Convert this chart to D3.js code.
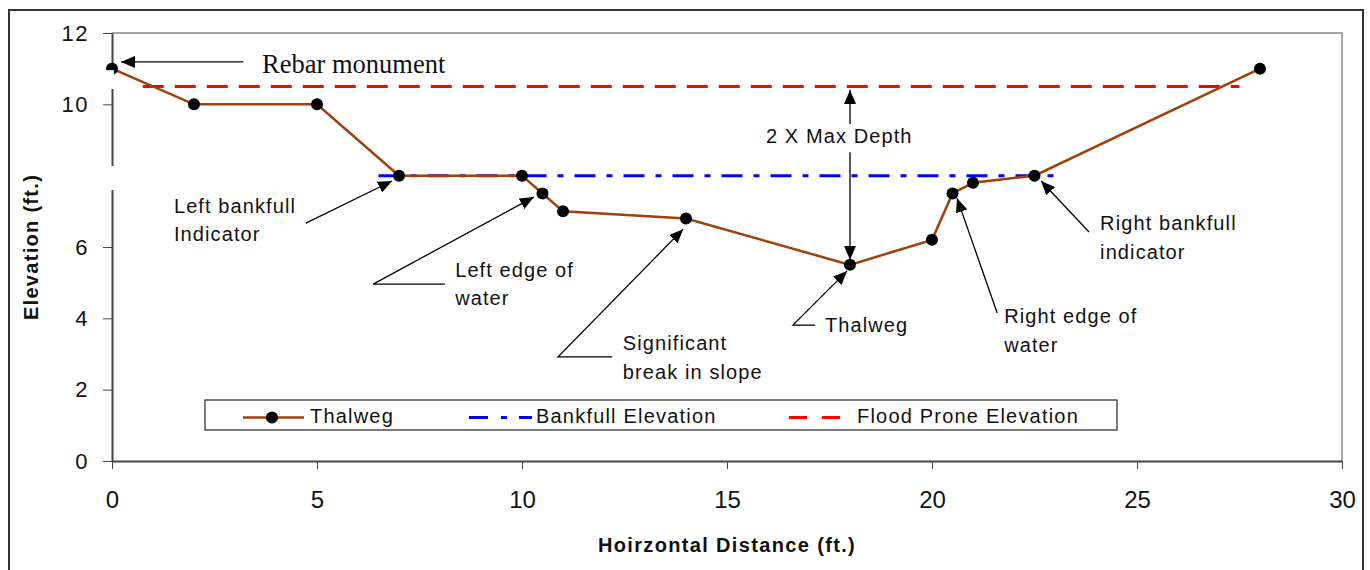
<!DOCTYPE html>
<html><head><meta charset="utf-8">
<script src="https://cdn.jsdelivr.net/npm/d3@7"></script>
<style>html,body{margin:0;padding:0;background:#fff;}svg{display:block;}</style>
</head><body>
<svg id="c" width="1370" height="570"></svg>
<script>
// ---- data ----
const distance = [0, 2, 5, 7, 10, 10.5, 11, 14, 18, 20, 20.5, 21, 22.5, 28];
const elevation = [11, 10, 10, 8, 8, 7.5, 7, 6.8, 5.5, 6.2, 7.5, 7.8, 8, 11];
const bankfullX = [6.5, 23];
const bankfullY = [8, 8];
const floodX = [0.75, 27.5];
const floodY = [10.5, 10.5];
const xTicks = [0, 5, 10, 15, 20, 25, 30];
const yTicks = [0, 2, 4, 6, 8, 10, 12];
const seriesNames = ["Thalweg", "Bankfull Elevation", "Flood Prone Elevation"];
// annotation texts (positions in data units)
const noteTexts = [
  {lines: ["Left bankfull", "Indicator"], x: 1.51, y: [6.95, 6.17]},
  {lines: ["Left edge of", "water"], x: 8.37, y: [5.16, 4.37]},
  {lines: ["Significant", "break in slope"], x: 12.46, y: [3.11, 2.30]},
  {lines: ["Thalweg"], x: 17.39, y: [3.62]},
  {lines: ["Right edge of", "water"], x: 21.76, y: [3.87, 3.06]},
  {lines: ["Right bankfull", "indicator"], x: 24.10, y: [6.48, 5.66]},
  {lines: ["2 X Max Depth"], x: 15.95, y: [8.92]}
];
// leader lines: points in data units, last point is arrow tip
const leaders = [
  [[3.20, 11.19], [0.22, 11.19]],
  [[4.73, 6.67], [6.83, 7.85]],
  [[8.12, 4.96], [6.37, 4.96], [10.29, 7.40]],
  [[12.20, 2.92], [10.88, 2.92], [13.93, 6.50]],
  [[17.15, 3.81], [16.61, 3.81], [17.93, 5.33]],
  [[21.59, 4.15], [20.61, 7.37]],
  [[23.83, 6.42], [22.66, 7.85]],
  [[18.0, 9.45], [18.0, 10.40]],
  [[18.0, 8.66], [18.0, 5.64]]
];

const svg = d3.select("#c");
const FONT = "Arial, 'Liberation Sans', sans-serif";
const x = d3.scaleLinear().domain([0, 30]).range([112, 1342]);
const y = d3.scaleLinear().domain([0, 12]).range([461, 33]);

// outer border
svg.append("rect").attr("x", 9).attr("y", 10).attr("width", 1354).attr("height", 580)
  .attr("fill", "#fff").attr("stroke", "#333").attr("stroke-width", 2);

// plot border (top/right gray)
svg.append("path").attr("d", `M${x(0)},${y(12)}H${x(30)}V${y(0)}`)
  .attr("fill", "none").attr("stroke", "#8a8a8a").attr("stroke-width", 1.5);

// axes
const yAxis = d3.axisLeft(y).tickValues(yTicks).tickSize(9).tickSizeOuter(0).tickPadding(14);
const gy = svg.append("g").attr("transform", `translate(${x(0)},0)`).call(yAxis);
gy.select(".domain").attr("stroke", "#444").attr("stroke-width", 2);
gy.selectAll(".tick line").attr("stroke", "#444").attr("stroke-width", 1);
gy.selectAll(".tick text").attr("font-family", FONT).attr("letter-spacing", 1.5)
  .attr("font-size", 22).attr("fill", "#111");

const xAxis = d3.axisBottom(x).tickValues(xTicks).tickSize(8).tickSizeOuter(0).tickPadding(20);
const gx = svg.append("g").attr("transform", `translate(0,${y(0)})`).call(xAxis);
gx.select(".domain").attr("stroke", "#444").attr("stroke-width", 2);
gx.selectAll(".tick line").attr("stroke", "#444").attr("stroke-width", 1);
gx.selectAll(".tick text").attr("font-family", FONT).attr("dy", null).attr("y", 47)
  .attr("font-size", 24).attr("fill", "#111");

// axis titles
svg.append("text").attr("x", 727).attr("y", 552).attr("text-anchor", "middle")
  .attr("font-family", FONT).attr("font-weight", "bold")
  .attr("font-size", 20).attr("letter-spacing", 1.35).attr("fill", "#111")
  .text("Hoirzontal Distance (ft.)");
svg.append("text").attr("transform", "translate(38,247) rotate(-90)").attr("text-anchor", "middle")
  .attr("font-family", FONT).attr("font-weight", "bold")
  .attr("font-size", 20).attr("letter-spacing", 1.3).attr("fill", "#111")
  .text("Elevation (ft.)");

// white gaps (text boxes overlapping axis)
svg.append("rect").attr("x", 66).attr("y", 166).attr("width", 52).attr("height", 24).attr("fill", "#fff");
svg.append("rect").attr("x", 100).attr("y", 72).attr("width", 17).attr("height", 17).attr("fill", "#fff");

// reference lines
const line = d3.line().x(d => x(d[0])).y(d => y(d[1]));
svg.append("path").datum(floodX.map((v, i) => [v, floodY[i]])).attr("d", line)
  .attr("fill", "none").attr("stroke", "#ff0000").attr("stroke-width", 3)
  .attr("stroke-dasharray", "21,11");
svg.append("path").datum(bankfullX.map((v, i) => [v, bankfullY[i]])).attr("d", line)
  .attr("fill", "none").attr("stroke", "#0000ff").attr("stroke-width", 3)
  .attr("stroke-dasharray", "21,11,6,11");

// thalweg
const pts = distance.map((v, i) => [v, elevation[i]]);
svg.append("path").datum(pts).attr("d", line)
  .attr("fill", "none").attr("stroke", "#a0400c").attr("stroke-width", 2.5);
svg.append("g").selectAll("circle").data(pts).join("circle")
  .attr("cx", d => x(d[0])).attr("cy", d => y(d[1])).attr("r", 6).attr("fill", "#000");
// clip bottom half of the first marker (hidden by box)
svg.append("rect").attr("x", 104).attr("y", y(11) + 1.5).attr("width", 10).attr("height", 6).attr("fill", "#fff");

// arrow marker
const defs = svg.append("defs");
defs.append("marker").attr("id", "ah").attr("viewBox", "0 0 14 12").attr("refX", 14).attr("refY", 6)
  .attr("markerWidth", 14).attr("markerHeight", 12).attr("markerUnits", "userSpaceOnUse")
  .attr("orient", "auto")
  .append("path").attr("d", "M0,0L14,6L0,12Z").attr("fill", "#000");

svg.append("g").selectAll("path").data(leaders).join("path")
  .attr("d", d => line(d)).attr("fill", "none").attr("stroke", "#000").attr("stroke-width", 1.3)
  .attr("marker-end", "url(#ah)");

// annotation texts
const ng = svg.append("g").attr("font-family", FONT)
  .attr("font-size", 20).attr("letter-spacing", 1.1).attr("fill", "#111");
noteTexts.forEach(n => {
  n.lines.forEach((t, i) => {
    ng.append("text").attr("x", x(n.x)).attr("y", y(n.y[i])).text(t);
  });
});
svg.append("text").attr("x", x(3.66)).attr("y", y(10.88))
  .attr("font-family", "'Liberation Serif', 'Times New Roman', serif").attr("font-size", 26.5)
  .attr("fill", "#111").text("Rebar monument");

// legend
const lg = svg.append("g");
lg.append("rect").attr("x", 205).attr("y", 400).attr("width", 912).attr("height", 30)
  .attr("fill", "#fff").attr("stroke", "#222").attr("stroke-width", 1.2);
const ly = 417.5;
lg.append("line").attr("x1", 243).attr("x2", 304).attr("y1", ly).attr("y2", ly)
  .attr("stroke", "#a0400c").attr("stroke-width", 2.5);
lg.append("circle").attr("cx", 272).attr("cy", ly).attr("r", 6).attr("fill", "#000");
lg.append("line").attr("x1", 469).attr("x2", 532).attr("y1", ly).attr("y2", ly)
  .attr("stroke", "#0000ff").attr("stroke-width", 3).attr("stroke-dasharray", "19,13,6,12");
lg.append("line").attr("x1", 789).attr("x2", 842).attr("y1", ly).attr("y2", ly)
  .attr("stroke", "#ff0000").attr("stroke-width", 3).attr("stroke-dasharray", "18,15");
const lx = [310, 536, 857];
seriesNames.forEach((s, i) => {
  lg.append("text").attr("x", lx[i]).attr("y", 423)
    .attr("font-family", FONT).attr("font-size", 20)
    .attr("letter-spacing", 1.2).attr("fill", "#111").text(s);
});
</script>
</body></html>
